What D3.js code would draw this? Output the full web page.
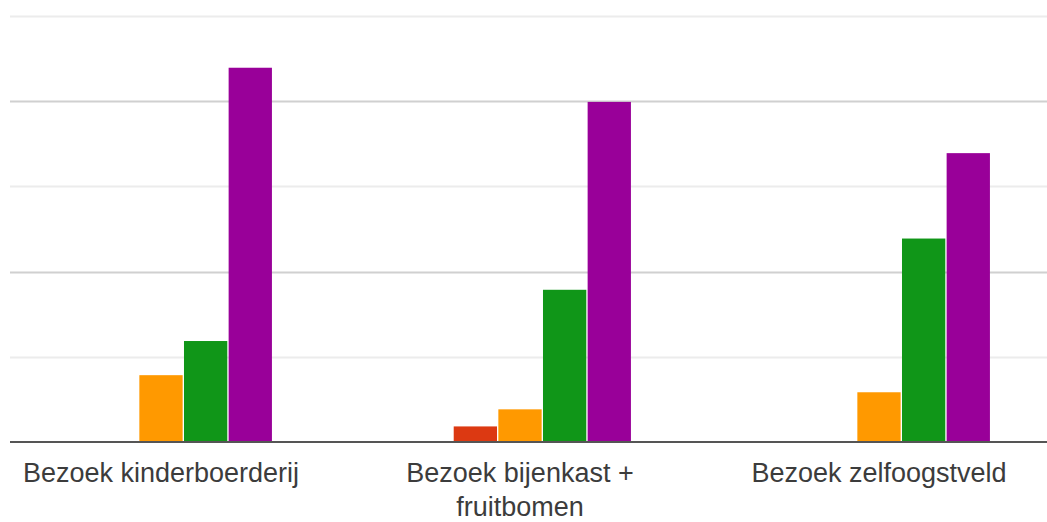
<!DOCTYPE html>
<html>
<head>
<meta charset="utf-8">
<script src="https://cdn.jsdelivr.net/npm/d3@7"></script>
<style>
  html, body { margin: 0; padding: 0; background: #fff; }
  svg { display: block; }
</style>
</head>
<body>
<svg id="chart" width="1047" height="522"></svg>
<script>
// ---- data ----
const categories = ["Bezoek kinderboerderij", "Bezoek bijenkast + fruitbomen", "Bezoek zelfoogstveld"];
const seriesNames = ["1", "2", "3", "4", "5"];
const series1 = [0, 0, 0];
const series2 = [0, 1, 0];
const series3 = [4, 2, 3];
const series4 = [6, 9, 12];
const series5 = [22, 20, 17];
const seriesColors = ["#3366cc", "#dc3912", "#ff9900", "#109618", "#990099"];
const gridTicks = [5, 10, 15, 20, 25];
const majorTicks = [10, 20];

const allSeries = [series1, series2, series3, series4, series5];

// ---- layout ----
const W = 1047, H = 522;
const svg = d3.select("#chart");

const y = d3.scaleLinear().domain([0, 25]).range([442.5, 15.5]);
const x0 = d3.scaleBand().domain(categories).range([-18.5, 1058.5])
  .paddingInner(0.382).paddingOuter(0.191);
const x1 = d3.scaleBand().domain(seriesNames).range([0, x0.bandwidth()]).paddingInner(0.03);

// gridlines
svg.append("g").selectAll("line").data(gridTicks).join("line")
  .attr("x1", 10).attr("x2", W)
  .attr("y1", d => Math.round(y(d)) + 0.5).attr("y2", d => Math.round(y(d)) + 0.5)
  .attr("stroke", d => majorTicks.includes(d) ? "#d0d0d0" : "#ececec")
  .attr("stroke-width", 2);

// bars
const groups = svg.append("g").selectAll("g").data(categories).join("g")
  .attr("transform", d => `translate(${x0(d)},0)`);

groups.selectAll("rect")
  .data((c, i) => allSeries.map((s, k) => ({ key: seriesNames[k], value: s[i], color: seriesColors[k] })))
  .join("rect")
  .filter(d => d.value > 0)
  .attr("x", d => x1(d.key))
  .attr("width", x1.bandwidth())
  .attr("y", d => y(d.value) + 1)
  .attr("height", d => y(0) - y(d.value) - 1)
  .attr("fill", d => d.color);

// baseline
svg.append("line")
  .attr("x1", 10).attr("x2", W)
  .attr("y1", y(0) - 0.5).attr("y2", y(0) - 0.5)
  .attr("stroke", "#555").attr("stroke-width", 2);

// category labels with wrapping
const fontSize = 27;
const maxW = 320;
const labels = svg.append("g")
  .attr("font-family", "'Liberation Sans', Arial, sans-serif")
  .attr("font-size", fontSize)
  .attr("fill", "#3c3c3c")
  .attr("text-anchor", "middle");

categories.forEach(c => {
  const cx = x0(c) + x0.bandwidth() / 2;
  const t = labels.append("text").attr("x", cx).attr("y", y(0) + 39.5);
  const words = c.split(" ");
  let line = [];
  let tspan = t.append("tspan").attr("x", cx).attr("dy", 0);
  words.forEach(w => {
    line.push(w);
    tspan.text(line.join(" "));
    if (tspan.node().getComputedTextLength() > maxW && line.length > 1) {
      line.pop();
      tspan.text(line.join(" "));
      line = [w];
      tspan = t.append("tspan").attr("x", cx).attr("dy", 34).text(w);
    }
  });
});
</script>
</body>
</html>
